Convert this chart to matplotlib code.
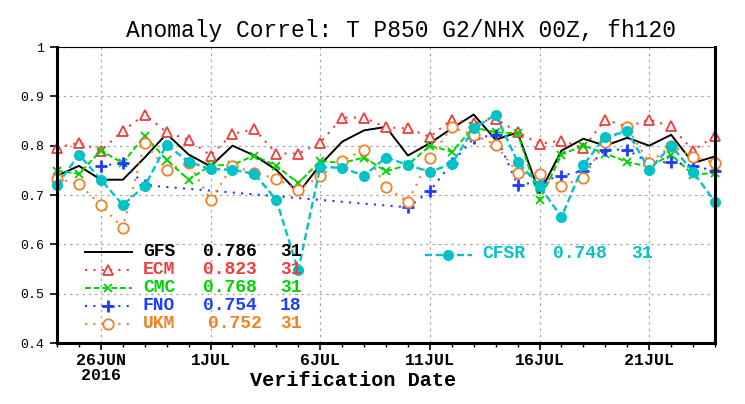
import numpy as np
import pandas as pd
import matplotlib
matplotlib.use("Agg")
import matplotlib.pyplot as plt
import matplotlib.dates as mdates
from matplotlib.ticker import FuncFormatter

# verification dates, 00Z, 24 Jun -> 24 Jul 2016
dates = pd.date_range("2016-06-24", "2016-07-24", freq="D")

gfs = [0.739, 0.759, 0.731, 0.731, 0.776, 0.824, 0.782, 0.758, 0.800, 0.780, 0.751, 0.704, 0.761, 0.808, 0.831, 0.838,
       0.780, 0.805, 0.835, 0.863, 0.812, 0.827, 0.704, 0.790, 0.814, 0.800, 0.816, 0.800, 0.822, 0.765, 0.778]
ecm = [0.796, 0.806, 0.790, 0.830, 0.863, 0.827, 0.812, 0.780, 0.824, 0.833, 0.784, 0.784, 0.806, 0.857, 0.857, 0.837,
       0.835, 0.818, 0.853, 0.845, 0.855, 0.827, 0.804, 0.810, 0.796, 0.853, 0.838, 0.853, 0.839, 0.790, 0.820]
cmc = [0.749, 0.743, 0.790, 0.765, 0.820, 0.771, 0.731, 0.760, 0.761, 0.780, 0.759, 0.724, 0.769, 0.765, 0.776, 0.748,
       0.761, 0.800, 0.788, 0.837, 0.827, 0.825, 0.690, 0.782, 0.800, 0.784, 0.767, 0.757, 0.782, 0.741, 0.745]
nan = np.nan
fno = [nan, nan, 0.759, 0.765, 0.720, nan, nan, nan, nan, nan, nan, nan, nan, nan, nan, nan,
       0.675, 0.708, 0.765, 0.815, 0.822, 0.720, 0.727, 0.739, 0.749, 0.792, 0.792, 0.765, 0.767, 0.759, 0.749]
ukm = [0.733, 0.722, 0.680, 0.633, 0.806, 0.751, 0.765, 0.690, 0.759, 0.745, 0.733, 0.710, 0.739, 0.769, 0.792, 0.716,
       0.686, 0.776, 0.837, 0.822, 0.802, 0.745, 0.742, 0.718, 0.735, 0.808, 0.837, 0.765, 0.800, 0.778, 0.765]
cfsr = [0.720, 0.782, 0.731, 0.680, 0.718, 0.802, 0.767, 0.753, 0.751, 0.743, 0.690, 0.547, 0.757, 0.755, 0.739, 0.776,
        0.761, 0.747, 0.763, 0.835, 0.863, 0.767, 0.718, 0.655, 0.761, 0.818, 0.829, 0.751, 0.800, 0.747, 0.686]

names = ["GFS", "ECM", "CMC", "FNO", "UKM", "CFSR"]
means = ["0.786", "0.823", "0.768", "0.754", "0.752", "0.748"]
counts = ["31", "31", "31", "18", "31", "31"]

colors = ["black", "#f03c3c", "#00d200", "#1e3cff", "#f08228", "#00c3c8"]
styles = [
    dict(ls="-", lw=1.4, marker=None),
    dict(ls=(0, (1, 3)), lw=1.5, marker="^", mfc="white", ms=7, mew=1.3),
    dict(ls=(0, (3, 1.5)), lw=1.4, marker="x", ms=6, mew=1.3),
    dict(ls=(0, (1, 3)), lw=1.5, marker="+", ms=9, mew=2),
    dict(ls=(0, (1, 3)), lw=1.5, marker="o", mfc="white", ms=7.5, mew=1.3),
    dict(ls=(0, (3, 1.5)), lw=1.7, marker="o", ms=8, mew=0),
]
series = [gfs, ecm, cmc, fno, ukm, cfsr]

MONO = "Liberation Mono"
fig = plt.figure(figsize=(7.45, 4.04), dpi=100)
ax = fig.add_axes([57 / 745, 1 - 343 / 404, 658 / 745, 296 / 404])

for vals, c, st in zip(series, colors, styles):
    v = np.asarray(vals, dtype=float)
    ok = ~np.isnan(v)                                   # FNO gaps get bridged, as in the original
    ax.plot(dates[ok], v[ok], color=c, mec=c, clip_on=False, **st)

ax.set_xlim(dates[0], dates[-1])
ax.set_ylim(0.4, 1.0)
ax.set_yticks([0.4, 0.5, 0.6, 0.7, 0.8, 0.9, 1.0])
ax.set_yticklabels(["0.4", "0.5", "0.6", "0.7", "0.8", "0.9", "1"], fontsize=9.5, family=MONO)

ax.xaxis.set_major_locator(mdates.DayLocator(bymonthday=[1, 6, 11, 16, 21, 26]))
ax.xaxis.set_minor_locator(mdates.DayLocator())


def _fmt(x, pos):
    d = mdates.num2date(x)
    s = f"{d.day}{d.strftime('%b').upper()}"
    return s + "\n2016" if d.day == 26 else s


ax.xaxis.set_major_formatter(FuncFormatter(_fmt))
for lab in ax.get_xticklabels():
    lab.set_fontsize(12)
    lab.set_fontweight("bold")
    lab.set_family(MONO)
    lab.set_linespacing(1.0)
ax.tick_params(axis="x", which="major", length=5, width=1.2, direction="out", pad=2)
ax.tick_params(axis="x", which="minor", length=3, width=1, direction="out")
ax.tick_params(axis="y", length=5, width=1.2, direction="out", pad=4)

ax.grid(True, which="major", color="#a8a8a8", ls=(0, (2, 3)), lw=0.9)
ax.set_axisbelow(True)
for side in ("left", "right", "bottom"):
    ax.spines[side].set_linewidth(2.2)
ax.spines["top"].set_linewidth(0.8)

fig.text(401 / 745, 1 - 31 / 404, "Anomaly Correl: T P850 G2/NHX 00Z, fh120",
         fontsize=16.5, family=MONO, ha="center", va="center")
ax.set_xlabel("Verification Date", fontsize=14.5, family=MONO, fontweight="bold")
ax.xaxis.set_label_coords((353 - 57) / 658, -(380 - 343) / 296)
ax.xaxis.label.set_va("center")

# legend block, GrADS style: sample line, name, mean, count
def fx(px):
    return px / 745


def fy(py):
    return 1 - py / 404


rows_y = [252, 270, 288, 306, 324]
for i in range(5):
    y = rows_y[i]
    st = dict(styles[i])
    st.pop("marker")
    fig.add_artist(plt.Line2D([fx(85), fx(132)], [fy(y), fy(y)], transform=fig.transFigure,
                              color=colors[i], ls=st["ls"], lw=st["lw"]))
    if styles[i]["marker"]:
        fig.add_artist(plt.Line2D([fx(108)], [fy(y)], transform=fig.transFigure, color=colors[i],
                                  marker=styles[i]["marker"], mfc=styles[i].get("mfc", colors[i]),
                                  mec=colors[i], ms=styles[i]["ms"], mew=styles[i]["mew"], ls="none"))
    kw = dict(color=colors[i], family=MONO, fontweight="bold", fontsize=13, va="center")
    fig.text(fx(143), fy(y), names[i], **kw)
    fig.text(fx(208 if i == 4 else 203), fy(y), means[i], **kw)
    fig.text(fx(280), fy(y), counts[i], **kw)

yc = 255
fig.add_artist(plt.Line2D([fx(425), fx(472)], [fy(yc), fy(yc)], transform=fig.transFigure,
                          color=colors[5], ls=styles[5]["ls"], lw=1.7))
fig.add_artist(plt.Line2D([fx(448)], [fy(yc)], transform=fig.transFigure, color=colors[5],
                          marker="o", ms=8, mew=0, ls="none"))
kw = dict(color=colors[5], family=MONO, fontweight="bold", fontsize=13, va="center")
fig.text(fx(482), fy(yc - 2), names[5], **kw)
fig.text(fx(553), fy(yc - 2), means[5], **kw)
fig.text(fx(631), fy(yc - 2), counts[5], **kw)

fig.savefig("out.png", dpi=100)
